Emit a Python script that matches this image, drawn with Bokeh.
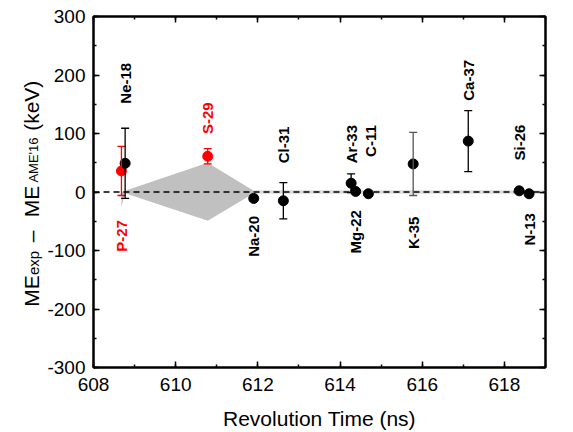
import math
from bokeh.plotting import figure
from bokeh.layouts import row
from bokeh.models import (ColumnDataSource, Whisker, TeeHead, Span,
                          LinearAxis, Range1d, SingleIntervalTicker,
                          NumeralTickFormatter, CustomLabelingPolicy)
from bokeh.core.properties import value
from bokeh.embed import file_html
from bokeh.resources import INLINE

# ---------------- data ----------------
names = ["P-27", "Ne-18", "S-29", "Na-20", "Cl-31", "Ar-33", "Mg-22", "C-11",
         "K-35", "Ca-37", "Si-26", "N-13"]
rev_time = [608.68, 608.77, 610.78, 611.90, 612.62, 614.27, 614.38, 614.69,
            615.78, 617.12, 618.36, 618.60]
delta = [36, 49, 61, -11, -15, 15, 1, -3, 48, 87, 2, -3]
err = [42, 60, 13, 5, 31, 16, 0, 0, 54, 52, 4, 0]
highlight = ["P-27", "S-29"]
labels_above = ["Ne-18", "S-29", "Cl-31", "Ar-33", "C-11", "Ca-37", "Si-26"]
label_anchor = {"Ne-18": 151, "S-29": 99, "Cl-31": 49, "Ar-33": 49, "C-11": 60,
                "Ca-37": 156, "Si-26": 54,
                "P-27": -48, "Na-20": -41, "Mg-22": -31, "K-35": -42, "N-13": -36}
label_x_shift = {"C-11": 0.05}

# systematic band
band_x = [608.68, 608.77, 610.78, 611.90]
band_upper = [0, 2, 50, 2]
band_lower = [-25, -2, -49, -2]
band2_x = [611.90, 619.0]
band2_upper = [3, 3]
band2_lower = [-3, -3]

x_ticks_major = 2
y_ticks_major = 100

FONT = "Liberation Sans"
RED = "#ff0000"
W, H = 573, 432
LEFT_W = 44
TOP, BOTTOM = 16, 63

p = figure(width=W - LEFT_W, height=H, output_backend="svg", toolbar_location=None,
           x_range=Range1d(608, 619), y_range=Range1d(-300, 300),
           min_border_left=92 - LEFT_W, min_border_right=1, min_border_top=TOP,
           min_border_bottom=BOTTOM)
p.background_fill_color = "white"
p.border_fill_color = "white"
p.grid.visible = False
p.outline_line_color = "black"
p.outline_line_width = 2

p.varea(x=band_x, y1=band_lower, y2=band_upper, fill_color="#c0c0c0")
p.varea(x=band2_x, y1=band2_lower, y2=band2_upper, fill_color="#dcdcdc")

p.add_layout(Span(location=0, dimension="width", line_color="black",
                  line_width=1.3, line_dash="6 4", level="glyph"))

# error bars
def group(cond):
    idx = [i for i in range(len(names)) if cond(i)]
    return ColumnDataSource(dict(
        x=[rev_time[i] for i in idx],
        y=[delta[i] for i in idx],
        upper=[delta[i] + err[i] for i in idx],
        lower=[delta[i] - err[i] for i in idx],
    ))

groups = [
    (lambda i: names[i] in highlight and err[i] > 0, RED),
    (lambda i: names[i] not in highlight and names[i] != "K-35" and err[i] > 0, "black"),
    (lambda i: names[i] == "K-35", "#555555"),
]
for cond, col in groups:
    src = group(cond)
    p.add_layout(Whisker(base="x", upper="upper", lower="lower", source=src,
                         dimension="height", line_color=col, line_width=1.3,
                         upper_head=TeeHead(size=8, line_color=col, line_width=1.3),
                         lower_head=TeeHead(size=8, line_color=col, line_width=1.3),
                         level="glyph"))

pt_src = ColumnDataSource(dict(
    x=rev_time, y=delta,
    color=[RED if n in highlight else "black" for n in names]))
p.scatter("x", "y", source=pt_src, size=10, marker="circle",
          fill_color="color", line_color="color")

# nuclide labels
for above in (True, False):
    sel = [n for n in names if (n in labels_above) == above]
    src = ColumnDataSource(dict(
        x=[rev_time[names.index(n)] + label_x_shift.get(n, 0) for n in sel],
        y=[label_anchor[n] for n in sel],
        t=sel,
        c=[RED if n in highlight else "black" for n in sel]))
    p.text("x", "y", text="t", source=src, angle=math.pi / 2,
           text_align="left" if above else "right", text_baseline="middle",
           text_font=value(FONT), text_font_style="bold",
           text_font_size="15px", text_color="c")

# axes
for ax in (p.xaxis[0], p.yaxis[0]):
    ax.axis_line_width = 2
    ax.major_tick_line_width = 1.5
    ax.minor_tick_line_width = 1.5
    ax.major_tick_in = 6
    ax.major_tick_out = 0
    ax.minor_tick_in = 3
    ax.minor_tick_out = 0
    ax.major_label_text_font = FONT
    ax.major_label_text_font_size = "19px"
    ax.major_label_text_color = "black"
    ax.formatter = NumeralTickFormatter(format="0")

p.xaxis.ticker = SingleIntervalTicker(interval=x_ticks_major, num_minor_ticks=2)
p.yaxis.ticker = SingleIntervalTicker(interval=y_ticks_major, num_minor_ticks=2)
p.xaxis.major_label_standoff = 10
p.yaxis.major_label_standoff = 8
p.xaxis.axis_label = "Revolution Time (ns)"
p.xaxis.axis_label_text_font = FONT
p.xaxis.axis_label_text_font_size = "21px"
p.xaxis.axis_label_text_font_style = "normal"
p.xaxis.axis_label_text_color = "black"
p.xaxis.axis_label_standoff = 13

for loc, tick_int in (("above", x_ticks_major), ("right", y_ticks_major)):
    ax = LinearAxis(ticker=SingleIntervalTicker(interval=tick_int, num_minor_ticks=2))
    ax.axis_line_width = 2
    ax.major_tick_line_width = 1.5
    ax.minor_tick_line_width = 1.5
    ax.major_tick_in = 6
    ax.major_tick_out = 0
    ax.minor_tick_in = 3
    ax.minor_tick_out = 0
    ax.major_label_standoff = 0
    ax.major_label_policy = CustomLabelingPolicy(code="return []")
    p.add_layout(ax, loc)

# y axis label composed of pieces (rotated), drawn in a narrow side panel
lab = figure(width=LEFT_W, height=H, output_backend="svg", toolbar_location=None,
             x_range=Range1d(0, LEFT_W), y_range=Range1d(-300, 300),
             x_axis_location=None, y_axis_location=None,
             min_border_left=0, min_border_right=0, min_border_top=TOP,
             min_border_bottom=BOTTOM)
lab.grid.visible = False
lab.outline_line_color = None
lab.background_fill_color = "white"
lab.border_fill_color = "white"

x_main = 31
x_sub = 33
piece_text = ["ME", "exp", "\u2013", "ME", "AME'16", "(keV)"]
piece_start = [-196.3, -141.9, -85.8, -43.3, 16.1, 104.5]
piece_size = ["21px", "15px", "21px", "21px", "13px", "21px"]
piece_x = [x_main, x_sub, x_main, x_main, x_sub, x_main]
for t, ys, fs, xs in zip(piece_text, piece_start, piece_size, piece_x):
    lab.text(x=[xs], y=[ys], text=[t], angle=math.pi / 2,
             text_align="left", text_baseline="alphabetic",
             text_font=value(FONT), text_font_size=fs, text_color="black")

layout = row(lab, p)
open("out.html", "w").write(file_html(layout, INLINE))
